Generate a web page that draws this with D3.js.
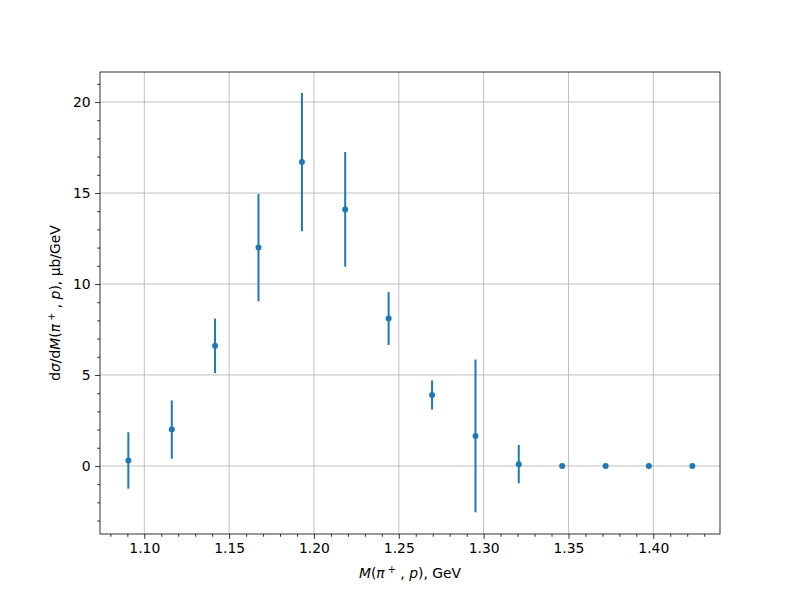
<!DOCTYPE html>
<html><head><meta charset="utf-8">
<script src="https://cdn.jsdelivr.net/npm/d3@7"></script>
<style>body{margin:0;background:#fff}svg{display:block}text{font-family:"DejaVu Sans",sans-serif}</style>
</head><body><svg id="c" width="800" height="600"></svg>
<script>
const massValues = [1.0906,1.1162,1.1417,1.1673,1.1929,1.2184,1.2440,1.2696,1.2952,1.3207,1.3463,1.3719,1.3974,1.4230];
const crossSection = [0.3,2.0,6.6,12.0,16.7,14.1,8.1,3.9,1.65,0.1,0,0,0,0];
const crossSectionErr = [1.55,1.6,1.5,2.95,3.8,3.15,1.45,0.8,4.2,1.05,0,0,0,0];
const xTicks = [1.10,1.15,1.20,1.25,1.30,1.35,1.40];
const yTicks = [0,5,10,15,20];

const svg = d3.select("#c");
const L=100,R=720,T=72,B=534;
const x = d3.scaleLinear().domain([1.07389,1.43931]).range([L,R]);
const y = d3.scaleLinear().domain([-3.74,21.65]).range([B,T]);
const color = "#1f77b4";

// grid
const g = svg.append("g");
xTicks.forEach(t=>g.append("line").attr("x1",x(t)).attr("x2",x(t)).attr("y1",T).attr("y2",B).attr("stroke","#b0b0b0").attr("stroke-width",0.8));
yTicks.forEach(t=>g.append("line").attr("x1",L).attr("x2",R).attr("y1",y(t)).attr("y2",y(t)).attr("stroke","#b0b0b0").attr("stroke-width",0.8));

// axes
const xMinor = d3.range(1.08,1.44,0.01).filter(v=>!xTicks.some(t=>Math.abs(t-v)<1e-6));
const yMinor = d3.range(-3,22,1).filter(v=>v%5!==0);
const xAx = svg.append("g").attr("transform",`translate(0,${B})`)
  .call(d3.axisBottom(x).tickValues(xTicks).tickFormat(d3.format(".2f")).tickSize(4.9).tickPadding(4.5));
const xAxMin = svg.append("g").attr("transform",`translate(0,${B})`)
  .call(d3.axisBottom(x).tickValues(xMinor).tickFormat("").tickSize(2.8));
const yAx = svg.append("g").attr("transform",`translate(${L},0)`)
  .call(d3.axisLeft(y).tickValues(yTicks).tickFormat(d3.format("d")).tickSize(4.9).tickPadding(4.5));
const yAxMin = svg.append("g").attr("transform",`translate(${L},0)`)
  .call(d3.axisLeft(y).tickValues(yMinor).tickFormat("").tickSize(2.8));
[xAx,xAxMin,yAx,yAxMin].forEach(a=>{a.select(".domain").remove();a.selectAll("line").attr("stroke","#000").attr("stroke-width",0.8);a.selectAll("text").attr("font-size",13.9).attr("fill","#000").attr("font-family","DejaVu Sans");});

svg.append("rect").attr("x",L).attr("y",T).attr("width",R-L).attr("height",B-T).attr("fill","none").attr("stroke","#000").attr("stroke-width",0.8);

// error bars
const pts = massValues.map((m,i)=>({m,v:crossSection[i],e:crossSectionErr[i]}));
svg.append("g").selectAll("line").data(pts.filter(d=>d.e>0)).join("line")
  .attr("x1",d=>x(d.m)).attr("x2",d=>x(d.m)).attr("y1",d=>y(d.v-d.e)).attr("y2",d=>y(d.v+d.e))
  .attr("stroke",color).attr("stroke-width",2);
svg.append("g").selectAll("circle").data(pts).join("circle")
  .attr("cx",d=>x(d.m)).attr("cy",d=>y(d.v)).attr("r",3).attr("fill",color);

// labels
const xl = svg.append("text").attr("x",(L+R)/2).attr("y",578).attr("text-anchor","middle").attr("font-size",13.9);
xl.append("tspan").attr("font-style","italic").text("M");
xl.append("tspan").text("(");
xl.append("tspan").attr("font-style","italic").text("π");
xl.append("tspan").attr("dy",-5).attr("font-size",9.7).text(" +");
xl.append("tspan").attr("dy",5).text(" , ");
xl.append("tspan").attr("font-style","italic").text("p");
xl.append("tspan").text("), GeV");

const yl = svg.append("text").attr("transform",`translate(60,${(T+B)/2}) rotate(-90)`).attr("text-anchor","middle").attr("font-size",13.9);
yl.append("tspan").text("d");
yl.append("tspan").attr("font-style","italic").text("σ");
yl.append("tspan").text("/d");
yl.append("tspan").attr("font-style","italic").text("M");
yl.append("tspan").text("(");
yl.append("tspan").attr("font-style","italic").text("π");
yl.append("tspan").attr("dy",-5).attr("font-size",9.7).text(" +");
yl.append("tspan").attr("dy",5).text(" , ");
yl.append("tspan").attr("font-style","italic").text("p");
yl.append("tspan").text("), μb/GeV");
</script></body></html>
